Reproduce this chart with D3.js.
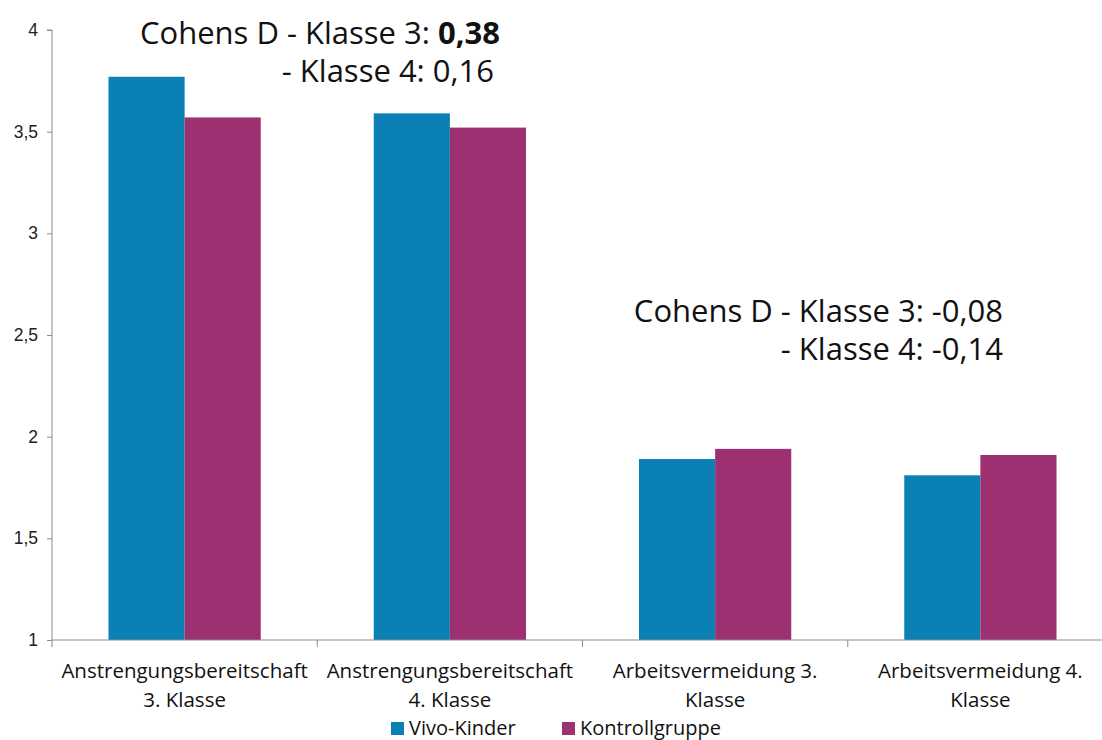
<!DOCTYPE html>
<html>
<head>
<meta charset="utf-8">
<script src="https://cdn.jsdelivr.net/npm/d3@7"></script>
<style>
  body { margin: 0; background: #fff; }
  svg { display: block; }
  .y-axis path, .y-axis line, .x-axis path, .x-axis line { stroke: #8c8c8c; }
  .lbl { font-family: "Open Sans", "Noto Sans", sans-serif; fill: #111; }
</style>
</head>
<body>
<svg width="1102" height="740"></svg>
<script>
const categories = [
  ['Anstrengungsbereitschaft', '3. Klasse'],
  ['Anstrengungsbereitschaft', '4. Klasse'],
  ['Arbeitsvermeidung 3.', 'Klasse'],
  ['Arbeitsvermeidung 4.', 'Klasse']
];
const seriesNames = ['Vivo-Kinder', 'Kontrollgruppe'];
const vivoValues = [3.77, 3.59, 1.89, 1.81];
const kontrollValues = [3.57, 3.52, 1.94, 1.91];
const yTicks = [1, 1.5, 2, 2.5, 3, 3.5, 4];
const colors = ['#0a80b4', '#9d3070'];

const width = 1102;
const height = 740;
const plotLeft = 52;
const plotRight = 1113;
const plotTop = 30;
const plotBottom = 640;

const svg = d3.select('svg');

const rows = categories.map((c, i) => ({ idx: i, values: [vivoValues[i], kontrollValues[i]] }));

const xScale = d3.scaleBand()
    .domain(d3.range(categories.length))
    .range([plotLeft, plotRight])
    .padding(0);

const inner = d3.scaleBand()
    .domain([0, 1])
    .range([56.5, xScale.bandwidth() - 56.5])
    .padding(0);

const yScale = d3.scaleLinear()
    .domain([1, 4])
    .range([plotBottom, plotTop]);

// y axis
const yAxis = d3.axisLeft(yScale)
    .tickValues(yTicks)
    .tickSize(5)
    .tickPadding(9)
    .tickFormat(d => String(d).replace('.', ','));

svg.append('g')
    .attr('transform', `translate(${plotLeft}, 0)`)
    .classed('y-axis', true)
    .call(yAxis)
    .attr('font-family', '"Liberation Sans", Arial, sans-serif')
    .attr('font-size', 17.5)
    .call(g => g.selectAll('text').attr('fill', '#222'))
    .call(g => g.select('.domain').attr('d', `M-5,${plotTop}H0V${plotBottom}`));

// bars
const groups = svg.selectAll('.bar')
    .data(rows)
    .enter()
    .append('g')
    .classed('bar', true)
    .attr('transform', d => `translate(${xScale(d.idx)}, 0)`);

groups.selectAll('rect')
    .data(d => d.values)
    .enter()
    .append('rect')
    .attr('x', (d, i) => inner(i))
    .attr('y', d => yScale(d))
    .attr('width', inner.bandwidth())
    .attr('height', d => plotBottom - yScale(d))
    .attr('fill', (d, i) => colors[i]);

// x axis line with ticks between categories
const xAxisG = svg.append('g').classed('x-axis', true);
xAxisG.append('line')
    .attr('x1', plotLeft).attr('x2', width)
    .attr('y1', plotBottom).attr('y2', plotBottom);
xAxisG.selectAll('.xtick')
    .data(d3.range(categories.length + 1))
    .enter()
    .append('line')
    .classed('xtick', true)
    .attr('x1', i => xScale.step() * i + plotLeft)
    .attr('x2', i => xScale.step() * i + plotLeft)
    .attr('y1', plotBottom)
    .attr('y2', plotBottom + 7);

// x labels
const labels = svg.selectAll('.xlabel')
    .data(categories)
    .enter()
    .append('text')
    .attr('class', 'xlabel lbl')
    .attr('text-anchor', 'middle')
    .style('font-size', '20.5px');

labels.selectAll('tspan')
    .data((d, i) => d.map(t => ({ t, i })))
    .enter()
    .append('tspan')
    .attr('x', d => xScale(d.i) + xScale.bandwidth() / 2)
    .attr('y', (d, j) => 678 + j * 29)
    .text(d => d.t);

// legend
const legendX = [391, 562];
const legend = svg.selectAll('.legend')
    .data(seriesNames)
    .enter()
    .append('g')
    .classed('legend', true)
    .attr('transform', (d, i) => `translate(${legendX[i]}, 722)`);

legend.append('rect')
    .attr('width', 13).attr('height', 13)
    .attr('fill', (d, i) => colors[i]);

legend.append('text')
    .attr('class', 'lbl')
    .attr('x', 18)
    .attr('y', 13)
    .style('font-size', '20px')
    .text(d => d);

// Cohens D annotations
const note1 = svg.append('g').attr('class', 'lbl').style('font-size', '31px');
const t1 = note1.append('text').attr('x', 500).attr('y', 44).attr('text-anchor', 'end');
t1.append('tspan').text('Cohens D - Klasse 3: ');
t1.append('tspan').style('font-weight', 'bold').text('0,38');
note1.append('text').attr('x', 494).attr('y', 82).attr('text-anchor', 'end').text('- Klasse 4: 0,16');

const note2 = svg.append('g').attr('class', 'lbl').style('font-size', '31px');
note2.append('text').attr('x', 1003).attr('y', 322).attr('text-anchor', 'end').text('Cohens D - Klasse 3: -0,08');
note2.append('text').attr('x', 1003).attr('y', 360).attr('text-anchor', 'end').text('- Klasse 4: -0,14');
</script>
</body>
</html>
